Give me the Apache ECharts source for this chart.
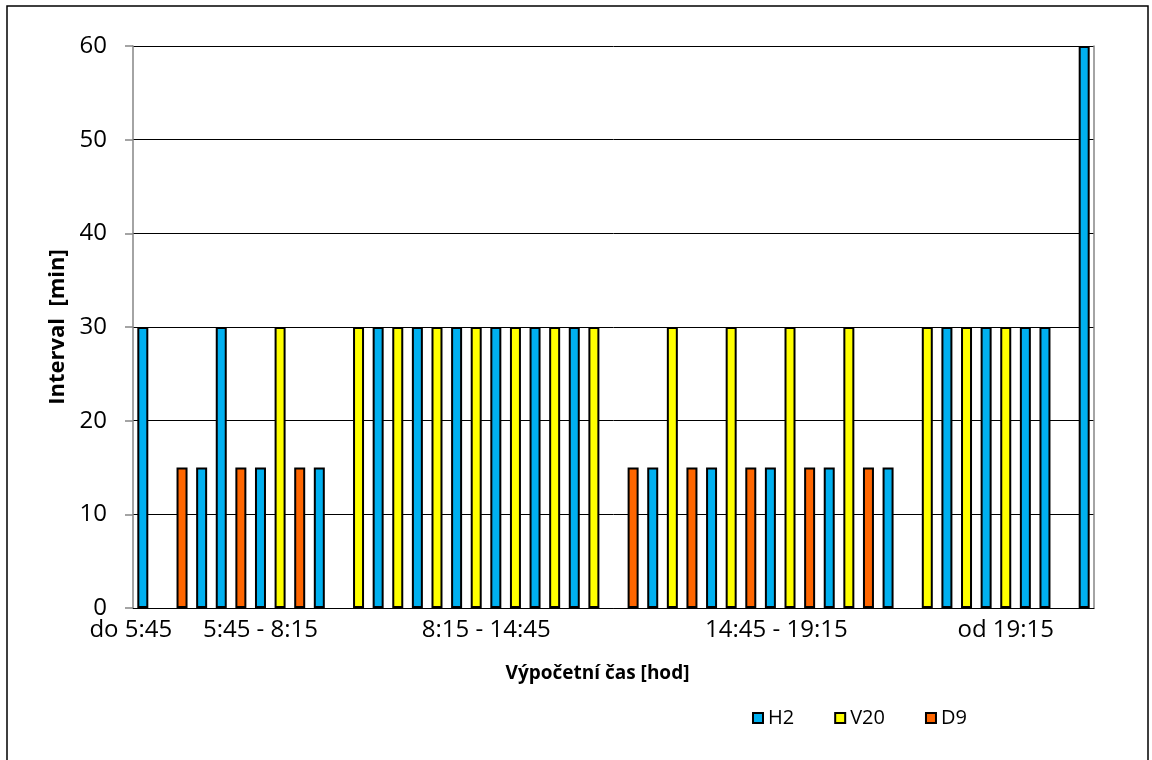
<!DOCTYPE html>
<html>
<head>
<meta charset="utf-8">
<script src="https://cdn.jsdelivr.net/npm/echarts@6/dist/echarts.min.js"></script>
<style>
html, body { margin: 0; padding: 0; background: #fff; }
#chart { width: 1152px; height: 760px; }
</style>
</head>
<body>
<div id="chart"></div>
<script>
// 49 odjezdových slotů, v každém nejvýš jeden spoj
const slotCount = 49
const labelSlots = [0, 6, 17, 32, 44]
const tickLabels = ['do 5:45', '5:45 - 8:15', '8:15 - 14:45', '14:45 - 19:15', 'od 19:15']

const h2 = [30, null, null, 15, 30, null, 15, null, null, 15,
  null, null, 30, null, 30, null, 30, null, 30, null,
  30, null, 30, null, null, null, 15, null, null, 15,
  null, null, 15, null, null, 15, null, null, 15, null,
  null, 30, null, 30, null, 30, 30, null, 60]
const v20 = [null, null, null, null, null, null, null, 30, null, null,
  null, 30, null, 30, null, 30, null, 30, null, 30,
  null, 30, null, 30, null, null, null, 30, null, null,
  30, null, null, 30, null, null, 30, null, null, null,
  30, null, 30, null, 30, null, null, null, null]
const d9 = [null, null, 15, null, null, 15, null, null, 15, null,
  null, null, null, null, null, null, null, null, null, null,
  null, null, null, null, null, 15, null, null, 15, null,
  null, 15, null, null, 15, null, null, 15, null, null,
  null, null, null, null, null, null, null, null, null]

// posun popisků (px) – jen vzhled
const labelShift = [-12, 0, 10, 6, 0]

const font = '"Open Sans", "Noto Sans", sans-serif'

let categories = []
for (let i = 0; i < slotCount; i++) {
  let k = labelSlots.indexOf(i)
  if (k < 0) {
    categories.push({ value: '' })
  } else {
    let s = labelShift[k]
    categories.push({
      value: tickLabels[k],
      textStyle: { padding: s < 0 ? [0, -2 * s, 0, 0] : [0, 0, 0, 2 * s] }
    })
  }
}

function barSeries (name, color, data) {
  return {
    name: name,
    type: 'bar',
    data: data,
    barWidth: 11,
    barGap: '-100%',
    itemStyle: { color: color, borderColor: '#000', borderWidth: 2 },
    emphasis: { disabled: true }
  }
}

let chart = echarts.init(document.getElementById('chart'))
chart.setOption({
  animation: false,
  textStyle: { fontFamily: font },
  graphic: [{
    type: 'rect',
    shape: { x: 7, y: 6, width: 1141, height: 800 },
    style: { fill: 'none', stroke: '#000', lineWidth: 1.5 },
    silent: true
  }],
  grid: { left: 133, right: 58, top: 46, bottom: 152 },
  legend: {
    left: 752,
    top: 708,
    padding: 0,
    itemWidth: 10,
    itemHeight: 10,
    itemGap: 40,
    icon: 'rect',
    textStyle: { fontSize: 20, color: '#000', fontFamily: font },
    data: ['H2', 'V20', 'D9']
  },
  xAxis: {
    type: 'category',
    data: categories,
    name: 'Výpočetní čas [hod]',
    nameLocation: 'middle',
    nameGap: 56,
    nameTextStyle: { fontSize: 19, fontWeight: 'bold', color: '#000', fontFamily: font, padding: [0, 32, 0, 0] },
    axisLine: { lineStyle: { color: '#000', width: 1 } },
    axisTick: { show: false },
    axisLabel: { interval: 0, fontSize: 24, color: '#000', margin: 10, fontFamily: font }
  },
  yAxis: [{
    type: 'value',
    min: 0,
    max: 60,
    interval: 10,
    name: 'Interval  [min]',
    nameLocation: 'middle',
    nameGap: 62,
    nameRotate: 90,
    nameTextStyle: { fontSize: 22, fontWeight: 'bold', color: '#000', fontFamily: font },
    axisLine: { show: true, lineStyle: { color: '#868686', width: 1.5 } },
    axisTick: { show: true, length: 8, lineStyle: { color: '#868686', width: 1.5 } },
    axisLabel: { fontSize: 24, color: '#000', margin: 26, fontFamily: font },
    splitLine: { show: true, lineStyle: { color: '#000', width: 1 } }
  }, {
    type: 'value',
    position: 'right',
    min: 0,
    max: 60,
    interval: 10,
    axisLine: { show: true, lineStyle: { color: '#868686', width: 1.5 } },
    axisTick: { show: false },
    axisLabel: { show: false },
    splitLine: { show: false }
  }],
  series: [
    barSeries('H2', '#00B0F0', h2),
    barSeries('V20', '#FFFF00', v20),
    barSeries('D9', '#FF6600', d9)
  ]
})
</script>
</body>
</html>
